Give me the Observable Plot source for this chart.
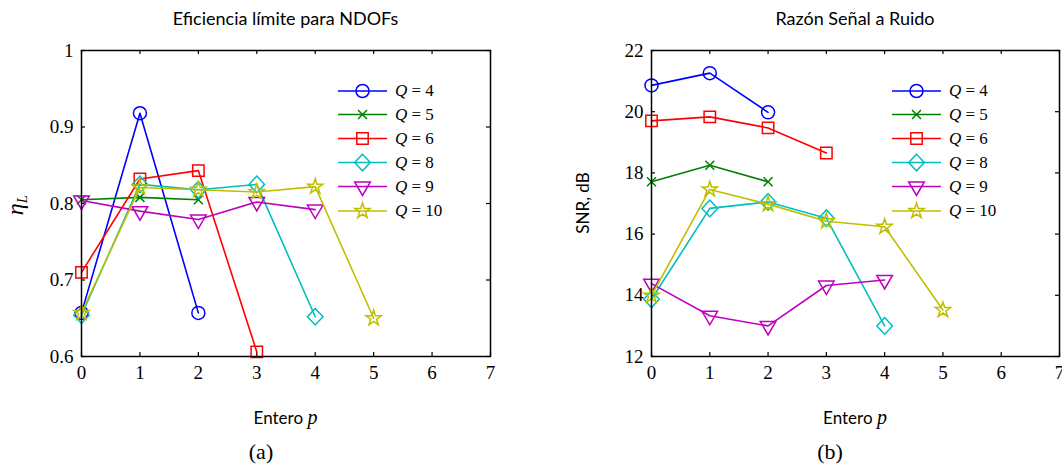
<!DOCTYPE html>
<html>
<head>
<meta charset="utf-8">
<script src="https://cdn.jsdelivr.net/npm/d3@7"></script>
<script src="https://cdn.jsdelivr.net/npm/@observablehq/plot@0.6"></script>
<style>
  html, body { margin: 0; padding: 0; background: #fff; }
  #wrap { position: relative; width: 1062px; height: 466px; overflow: hidden; background: #fff; }
  #wrap svg { position: absolute; top: 0; }
  .lbl { position: absolute; white-space: nowrap; color: #000; line-height: 1; }
  .title { font-family: Lato, sans-serif; font-size: 18px; transform: translate(-50%, -50%); }
  .xlab { font-family: Lato, sans-serif; font-size: 17px; transform: translate(-50%, -50%); }
  .xlab i { font-family: "Liberation Serif", serif; font-size: 20px; }
  .sub { font-family: "Liberation Serif", serif; font-size: 22px; transform: translate(-50%, -50%); }
  .ylab { transform: translate(-50%, -50%) rotate(-90deg); }
</style>
</head>
<body>
<div id="wrap"></div>
<script>
// ---------------- data ----------------
const pValues = [0, 1, 2, 3, 4, 5];
const seriesNames = ["Q = 4", "Q = 5", "Q = 6", "Q = 8", "Q = 9", "Q = 10"];
const seriesColors = ["#0000ff", "#008000", "#ff0000", "#00bfbf", "#bf00bf", "#bfbf00"];

// Eficiencia límite η_L
const eta_Q4  = [0.657, 0.918, 0.657];
const eta_Q5  = [0.805, 0.808, 0.805];
const eta_Q6  = [0.710, 0.832, 0.843, 0.606];
const eta_Q8  = [0.654, 0.825, 0.818, 0.825, 0.652];
const eta_Q9  = [0.804, 0.790, 0.779, 0.802, 0.792];
const eta_Q10 = [0.657, 0.821, 0.818, 0.815, 0.822, 0.650];

// SNR, dB
const snr_Q4  = [20.86, 21.26, 19.98];
const snr_Q5  = [17.71, 18.25, 17.71];
const snr_Q6  = [19.70, 19.83, 19.47, 18.65];
const snr_Q8  = [13.87, 16.84, 17.05, 16.52, 13.00];
const snr_Q9  = [14.38, 13.33, 13.00, 14.32, 14.50];
const snr_Q10 = [13.99, 17.46, 16.98, 16.42, 16.24, 13.52];

const xTicks = [0, 1, 2, 3, 4, 5, 6, 7];
const etaTicks = [0.6, 0.7, 0.8, 0.9, 1];
const snrTicks = [12, 14, 16, 18, 20, 22];

// ---------------- marker shapes (MATLAB style) ----------------
const symCircle = { draw(c) { c.moveTo(6.5, 0); c.arc(0, 0, 6.5, 0, 2 * Math.PI); } };
const symTimes = { draw(c) { const h = 4.5; c.moveTo(-h, -h); c.lineTo(h, h); c.moveTo(h, -h); c.lineTo(-h, h); } };
const symSquare = { draw(c) { const h = 5.7; c.moveTo(-h, -h); c.lineTo(h, -h); c.lineTo(h, h); c.lineTo(-h, h); c.closePath(); } };
const symDiamond = { draw(c) { const hx = 7.8, hy = 8.3; c.moveTo(0, -hy); c.lineTo(hx, 0); c.lineTo(0, hy); c.lineTo(-hx, 0); c.closePath(); } };
const symTriDown = { draw(c) { const hw = 7.8; c.moveTo(-hw, -4.5); c.lineTo(hw, -4.5); c.lineTo(0, 9); c.closePath(); } };
const symStar = { draw(c) {
  const R = 8, r = R * 0.382;
  for (let i = 0; i < 10; i++) {
    const rad = i % 2 === 0 ? R : r;
    const a = -Math.PI / 2 + i * Math.PI / 5;
    const x = rad * Math.cos(a), y = rad * Math.sin(a);
    if (i === 0) c.moveTo(x, y); else c.lineTo(x, y);
  }
  c.closePath();
} };
const seriesSymbols = [symCircle, symTimes, symSquare, symDiamond, symTriDown, symStar];

const etaSeries = [eta_Q4, eta_Q5, eta_Q6, eta_Q8, eta_Q9, eta_Q10];
const snrSeries = [snr_Q4, snr_Q5, snr_Q6, snr_Q8, snr_Q9, snr_Q10];

// ---------------- chart builder ----------------
function makeChart({series, yDomain, yTicks, left, marginLeft, marginRight, legendX}) {
  const width = 531, height = 400;
  const marginTop = 50, marginBottom = 44;
  const H = height - marginTop - marginBottom;
  const W = width - marginLeft - marginRight;
  const marks = [];
  // inward ticks on all four sides
  marks.push(Plot.tickX(xTicks, {x: d => d, insetTop: H - 4, stroke: "#000", strokeWidth: 1.2}));
  marks.push(Plot.tickX(xTicks, {x: d => d, insetBottom: H - 4, stroke: "#000", strokeWidth: 1.2}));
  marks.push(Plot.tickY(yTicks, {y: d => d, insetRight: W - 4, stroke: "#000", strokeWidth: 1.2}));
  marks.push(Plot.tickY(yTicks, {y: d => d, insetLeft: W - 4, stroke: "#000", strokeWidth: 1.2}));
  series.forEach((vals, i) => {
    const data = vals.map((v, j) => ({p: pValues[j], v}));
    marks.push(Plot.line(data, {x: "p", y: "v", stroke: seriesColors[i], strokeWidth: 1.6}));
    marks.push(Plot.dot(data, {x: "p", y: "v", symbol: seriesSymbols[i], stroke: seriesColors[i], fill: "none", strokeWidth: 1.5, r: 6}));
  });
  marks.push(Plot.frame({stroke: "#000", strokeWidth: 1.5}));
  const svg = Plot.plot({
    width, height, marginTop, marginBottom, marginLeft, marginRight,
    style: {fontFamily: "'Liberation Serif', serif", fontSize: "19px", background: "transparent", overflow: "visible", color: "#000"},
    x: {domain: [0, 7], ticks: xTicks, tickSize: 0, tickPadding: 9, label: null, tickFormat: d => String(d)},
    y: {domain: yDomain, ticks: yTicks, tickSize: 0, tickPadding: 8, label: null, tickFormat: d => String(d)},
    marks
  });
  svg.style.left = left + "px";
  // legend box (MATLAB-style, no border)
  const g = d3.select(svg).append("g").attr("class", "legend").attr("text-anchor", "start");
  const rowsY = [91, 114.5, 138.5, 162.5, 186.5, 211];
  seriesNames.forEach((name, i) => {
    const y = rowsY[i];
    g.append("line").attr("x1", legendX).attr("x2", legendX + 49).attr("y1", y).attr("y2", y)
      .attr("stroke", seriesColors[i]).attr("stroke-width", 1.6);
    g.append("path").attr("d", d3.symbol(seriesSymbols[i])()).attr("transform", `translate(${legendX + 24.5},${y})`)
      .attr("fill", "none").attr("stroke", seriesColors[i]).attr("stroke-width", 1.5);
    const parts = name.split(" = ");
    const t = g.append("text").attr("x", legendX + 57).attr("y", y).attr("dy", "0.32em")
      .attr("text-anchor", "start")
      .attr("font-family", "'Liberation Serif', serif").attr("font-size", 17).attr("fill", "#000");
    t.append("tspan").attr("font-style", "italic").text(parts[0]);
    t.append("tspan").text(" = " + parts[1]);
  });
  return svg;
}

const wrap = document.getElementById("wrap");
wrap.appendChild(makeChart({series: etaSeries, yDomain: [0.6, 1], yTicks: etaTicks, left: 0, marginLeft: 81, marginRight: 41, legendX: 338}));
wrap.appendChild(makeChart({series: snrSeries, yDomain: [12, 22], yTicks: snrTicks, left: 531, marginLeft: 120, marginRight: 3, legendX: 361}));

function addLabel(html, cls, x, y, extraStyle) {
  const d = document.createElement("div");
  d.className = "lbl " + cls;
  d.innerHTML = html;
  d.style.left = x + "px";
  d.style.top = y + "px";
  if (extraStyle) d.setAttribute("style", d.getAttribute("style") + ";" + extraStyle);
  wrap.appendChild(d);
}
addLabel("Eficiencia límite para NDOFs", "title", 285.5, 18);
addLabel("Razón Señal a Ruido", "title", 855, 18);
addLabel("Entero <i>p</i>", "xlab", 285.5, 417);
addLabel("Entero <i>p</i>", "xlab", 855, 417);
addLabel("(a)", "sub", 261, 452);
addLabel("(b)", "sub", 830, 452);
addLabel("<i>η</i><sub style='font-size:15px;font-style:italic;vertical-align:-4px'>L</sub>", "ylab", 16, 205, "font-family:'Liberation Serif',serif;font-size:24px");
addLabel("SNR, dB", "ylab", 582, 203, "font-family:Lato,sans-serif;font-size:17px");
</script>
</body>
</html>
